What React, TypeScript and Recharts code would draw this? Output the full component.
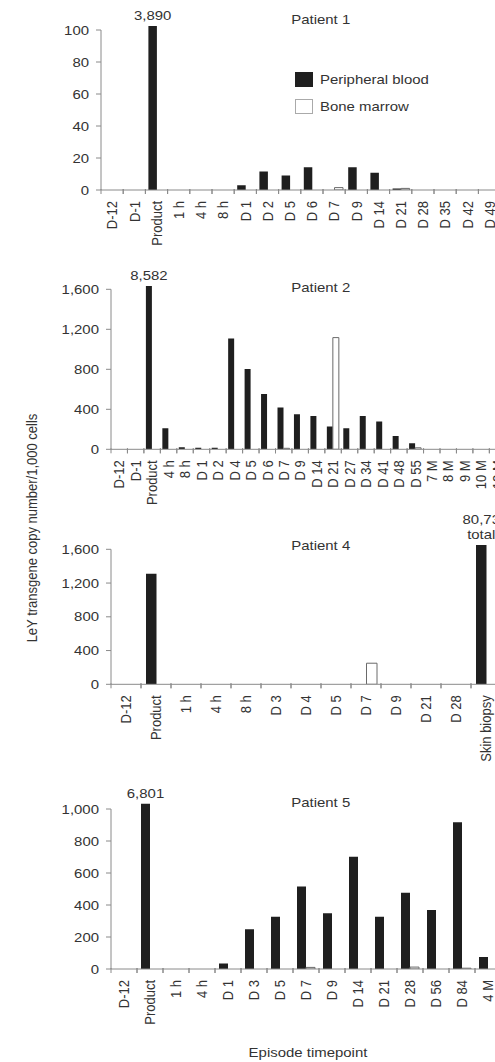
import React from 'react';
import { BarChart, Bar, XAxis, YAxis, ReferenceLine, LabelList, Legend } from 'recharts';

// ---------- data ----------
const p1Categories = ['D-12', 'D-1', 'Product', '1 h', '4 h', '8 h', 'D 1', 'D 2', 'D 5', 'D 6', 'D 7', 'D 9', 'D 14', 'D 21', 'D 28', 'D 35', 'D 42', 'D 49'];
const p1Blood = [0, 0, 102.5, 0, 0, 0, 3, 11.5, 9, 14.2, 0, 14.2, 10.8, 1, 0, 0, 0, 0];
const p1Marrow = [0, 0, 0, 0, 0, 0, 0, 0, 0, 0, 1.5, 0, 0, 1, 0, 0, 0, 0];
const p1Notes = ['', '', '3,890', '', '', '', '', '', '', '', '', '', '', '', '', '', '', ''];
const p1Ticks = [0, 20, 40, 60, 80, 100];

const p2Categories = ['D-12', 'D-1', 'Product', '4 h', '8 h', 'D 1', 'D 2', 'D 4', 'D 5', 'D 6', 'D 7', 'D 9', 'D 14', 'D 21', 'D 27', 'D 34', 'D 41', 'D 48', 'D 55', '7 M', '8 M', '9 M', '10 M', '12 M'];
const p2Blood = [0, 0, 1633, 210, 20, 15, 15, 1107, 803, 553, 417, 350, 333, 227, 210, 333, 277, 133, 60, 0, 0, 0, 0, 0];
const p2Marrow = [0, 0, 0, 0, 0, 0, 0, 0, 0, 0, 10, 0, 0, 1117, 0, 0, 0, 0, 15, 0, 0, 0, 0, 0];
const p2Notes = ['', '', '8,582', '', '', '', '', '', '', '', '', '', '', '', '', '', '', '', '', '', '', '', '', ''];
const p2Ticks = [0, 400, 800, 1200, 1600];

const p4Categories = ['D-12', 'Product', '1 h', '4 h', '8 h', 'D 3', 'D 4', 'D 5', 'D 7', 'D 9', 'D 21', 'D 28', 'Skin biopsy'];
const p4Blood = [0, 1310, 0, 0, 0, 0, 0, 0, 0, 0, 0, 0, 1650];
const p4Marrow = [0, 0, 0, 0, 0, 0, 0, 0, 250, 0, 0, 0, 0];
const p4Notes = ['', '', '', '', '', '', '', '', '', '', '', '', '80,73\ntotal'];
const p4Ticks = [0, 400, 800, 1200, 1600];

const p5Categories = ['D-12', 'Product', '1 h', '4 h', 'D 1', 'D 3', 'D 5', 'D 7', 'D 9', 'D 14', 'D 21', 'D 28', 'D 56', 'D 84', '4 M'];
const p5Blood = [0, 1033, 0, 0, 35, 248, 327, 515, 348, 702, 327, 477, 369, 917, 75];
const p5Marrow = [0, 0, 0, 0, 0, 0, 0, 10, 0, 0, 0, 12, 0, 5, 0];
const p5Notes = ['', '6,801', '', '', '', '', '', '', '', '', '', '', '', '', ''];
const p5Ticks = [0, 200, 400, 600, 800, 1000];

const seriesNames = { blood: 'Peripheral blood', marrow: 'Bone marrow' };
const titles = ['Patient 1', 'Patient 2', 'Patient 4', 'Patient 5'];
const yAxisTitle = 'LeY transgene copy number/1,000 cells';
const xAxisTitle = 'Episode timepoint';

// ---------- style ----------
const FONT = '"Liberation Sans", Arial, Helvetica, sans-serif';
const TEXT = '#333333';
const AXIS = '#8a8a8a';
const BLOOD = '#1f1f1f';
const MARROW_STROKE = '#6a6a6a';
const SX = 1.15;
const CHART_W = 530;

const build = (cats: string[], blood: number[], marrow: number[], notes: string[]) =>
  cats.map((c, i) => ({ cat: c, blood: blood[i], marrow: marrow[i], note: notes[i] }));

const fmt = (v: number) => v.toLocaleString('en-US');

const YTick = (props: any) => {
  const { x, y, payload } = props;
  return (
    <text
      transform={`translate(${x},${y}) scale(${SX},1)`}
      textAnchor="end"
      dy="0.35em"
      fontSize={13}
      fill={TEXT}
      fontFamily={FONT}
    >
      {fmt(payload.value)}
    </text>
  );
};

const makeXTick = (half: number) => (props: any) => {
  const { x, y, payload } = props;
  return (
    <g>
      <line x1={x - half} y1={y - 1} x2={x - half} y2={y + 4} stroke={AXIS} strokeWidth={1} />
      <line x1={x + half} y1={y - 1} x2={x + half} y2={y + 4} stroke={AXIS} strokeWidth={1} />
      <text
        transform={`translate(${x},${y + 11}) scale(${SX},1) rotate(-90)`}
        textAnchor="end"
        dy="0.35em"
        fontSize={13}
        fill={TEXT}
        fontFamily={FONT}
      >
        {payload.value}
      </text>
    </g>
  );
};

const NoteLabel = (props: any) => {
  const { x, y, width, value } = props;
  if (!value) return null;
  const lines = String(value).split('\n');
  const cx = Number(x) + Number(width) / 2;
  return (
    <g>
      {lines.map((ln, i) => (
        <text
          key={i}
          transform={`translate(${cx},${Number(y) - 6 - (lines.length - 1 - i) * 15.5}) scale(${SX},1)`}
          textAnchor="middle"
          fontSize={13}
          fill={TEXT}
          fontFamily={FONT}
        >
          {ln}
        </text>
      ))}
    </g>
  );
};

const renderLegend = () => (
  <svg width={200} height={46} style={{ display: 'block' }}>
    <rect x={0.5} y={0.5} width={17} height={14} fill={BLOOD} stroke={BLOOD} />
    <text transform={`translate(25,7.5) scale(${SX},1)`} dy="0.35em" fontSize={13} fill={TEXT} fontFamily={FONT}>
      {seriesNames.blood}
    </text>
    <rect x={0.5} y={27.5} width={17} height={14} fill="#ffffff" stroke="#aaaaaa" />
    <text transform={`translate(25,34.5) scale(${SX},1)`} dy="0.35em" fontSize={13} fill={TEXT} fontFamily={FONT}>
      {seriesNames.marrow}
    </text>
  </svg>
);

type PanelCfg = {
  data: any[];
  ticks: number[];
  domainMax: number;
  top: number;
  height: number;
  plotLeft: number;
  plotRight: number;
  plotTop: number;
  plotBottom: number;
  catW: number;
  barSize: number;
  legend?: boolean;
};

const Panel = ({ cfg }: { cfg: PanelCfg }) => {
  const yW = 60;
  const xH = 30;
  const margin = {
    top: cfg.plotTop - cfg.top,
    left: cfg.plotLeft - yW,
    right: CHART_W - cfg.plotRight,
    bottom: cfg.top + cfg.height - cfg.plotBottom - xH,
  };
  const firstCat = cfg.data[0].cat;
  const tickMax = cfg.ticks[cfg.ticks.length - 1];
  return (
    <div style={{ position: 'absolute', left: 0, top: cfg.top, width: CHART_W, height: cfg.height }}>
      <BarChart width={CHART_W} height={cfg.height} data={cfg.data} margin={margin} barGap={0}>
        <XAxis
          dataKey="cat"
          type="category"
          interval={0}
          height={xH}
          tickLine={false}
          tickSize={0}
          tickMargin={0}
          axisLine={{ stroke: AXIS, strokeWidth: 1 }}
          tick={makeXTick(cfg.catW / 2)}
        />
        <YAxis
          width={yW}
          type="number"
          domain={[0, cfg.domainMax]}
          allowDataOverflow
          ticks={cfg.ticks}
          interval={0}
          axisLine={false}
          tickLine={{ stroke: AXIS, strokeWidth: 1 }}
          tickSize={5}
          tickMargin={7}
          tick={<YTick />}
        />
        <ReferenceLine
          segment={[{ x: firstCat, y: 0 }, { x: firstCat, y: tickMax }]}
          position="start"
          stroke={AXIS}
          strokeWidth={1}
          ifOverflow="visible"
        />
        {cfg.legend && (
          <Legend
            layout="vertical"
            align="center"
            verticalAlign="middle"
            wrapperStyle={{ left: 295, top: 72 - cfg.top, width: 200, height: 46 }}
            content={renderLegend}
          />
        )}
        <Bar dataKey="blood" name={seriesNames.blood} fill={BLOOD} barSize={cfg.barSize} isAnimationActive={false}>
          <LabelList dataKey="note" content={NoteLabel} />
        </Bar>
        <Bar
          dataKey="marrow"
          name={seriesNames.marrow}
          fill="#ffffff"
          stroke={MARROW_STROKE}
          strokeWidth={1}
          barSize={cfg.barSize}
          isAnimationActive={false}
        />
      </BarChart>
    </div>
  );
};

const panels: PanelCfg[] = [
  {
    data: build(p1Categories, p1Blood, p1Marrow, p1Notes),
    ticks: p1Ticks, domainMax: 104,
    top: 0, height: 280, plotLeft: 101, plotRight: 101 + 18 * 22.2, plotTop: 23.6, plotBottom: 190,
    catW: 22.2, barSize: 8.5, legend: true,
  },
  {
    data: build(p2Categories, p2Blood, p2Marrow, p2Notes),
    ticks: p2Ticks, domainMax: 1664,
    top: 250, height: 290, plotLeft: 111, plotRight: 111 + 24 * 16.45, plotTop: 282.9, plotBottom: 449.3,
    catW: 16.45, barSize: 6,
  },
  {
    data: build(p4Categories, p4Blood, p4Marrow, p4Notes),
    ticks: p4Ticks, domainMax: 1664,
    top: 500, height: 290, plotLeft: 111, plotRight: 111 + 13 * 30, plotTop: 543.9, plotBottom: 684.3,
    catW: 30, barSize: 10.5,
  },
  {
    data: build(p5Categories, p5Blood, p5Marrow, p5Notes),
    ticks: p5Ticks, domainMax: 1040,
    top: 770, height: 292, plotLeft: 111, plotRight: 111 + 15 * 26, plotTop: 802.6, plotBottom: 969,
    catW: 26, barSize: 9,
  },
];

const titleY = [19, 287, 545, 802];

export default function App() {
  return (
    <div
      style={{
        position: 'absolute',
        left: 0,
        top: 0,
        width: 495,
        height: 1062,
        overflow: 'hidden',
        background: '#ffffff',
        fontFamily: FONT,
      }}
    >
      {panels.map((p, i) => (
        <Panel key={i} cfg={p} />
      ))}
      <svg
        width={495}
        height={1062}
        style={{ position: 'absolute', left: 0, top: 0, pointerEvents: 'none' }}
      >
        {titles.map((t, i) => (
          <text
            key={t}
            transform={`translate(320.7,${titleY[i]}) scale(${SX},1)`}
            textAnchor="middle"
            dy="0.35em"
            fontSize={13}
            fill={TEXT}
            fontFamily={FONT}
          >
            {t}
          </text>
        ))}
        <text
          transform={`translate(32,528) scale(${SX},1) rotate(-90)`}
          textAnchor="middle"
          dy="0.35em"
          fontSize={13}
          fill={TEXT}
          fontFamily={FONT}
        >
          {yAxisTitle}
        </text>
        <text
          transform={`translate(308,1052.5) scale(${SX},1)`}
          textAnchor="middle"
          dy="0.35em"
          fontSize={13}
          fill={TEXT}
          fontFamily={FONT}
        >
          {xAxisTitle}
        </text>
      </svg>
    </div>
  );
}
